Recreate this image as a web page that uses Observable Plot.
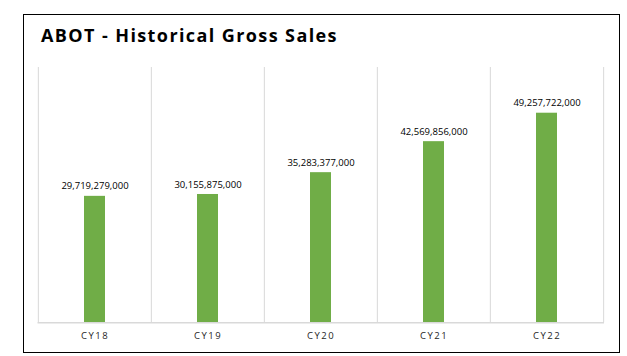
<!DOCTYPE html>
<html>
<head>
<meta charset="utf-8">
<script src="https://cdn.jsdelivr.net/npm/d3@7"></script>
<script src="https://cdn.jsdelivr.net/npm/@observablehq/plot@0.6"></script>
<style>
  html, body { margin: 0; padding: 0; background: #fff; }
  #wrap { position: relative; width: 627px; height: 356px; overflow: hidden; }
  #border { position: absolute; left: 23px; top: 14px; width: 595px; height: 337px; border: 1px solid #000; }
  #title { position: absolute; left: 41px; top: 23px; font-family: "Open Sans", sans-serif; font-weight: bold; font-size: 18px; letter-spacing: 1.4px; color: #000; line-height: 24px; white-space: nowrap; }
  #chart { position: absolute; left: 0; top: 0; }
  #chart [aria-label="x-axis tick label"] text { letter-spacing: 1.5px; }
</style>
</head>
<body>
<div id="wrap">
  <div id="chart"></div>
  <div id="border"></div>
  <div id="title">ABOT - Historical Gross Sales</div>
</div>
<script>
const categories = ["CY18", "CY19", "CY20", "CY21", "CY22"];
const grossSales = [29719279000, 30155875000, 35283377000, 42569856000, 49257722000];
const valueLabels = ["29,719,279,000", "30,155,875,000", "35,283,377,000", "42,569,856,000", "49,257,722,000"];

const data = categories.map((c, i) => ({cat: c, value: grossSales[i], label: valueLabels[i]}));

const W = 627, H = 356;
const mL = 37.5, mR = 23, mT = 67, mB = 33.7;
const step = (W - mL - mR) / categories.length;
const pin = 0.815;

const chart = Plot.plot({
  width: W,
  height: H,
  marginLeft: mL,
  marginRight: mR,
  marginTop: mT,
  marginBottom: mB,
  style: {fontFamily: "'Open Sans', sans-serif", background: "transparent", overflow: "visible"},
  x: {domain: categories, paddingInner: pin, paddingOuter: pin / 2, align: 0.5, label: null},
  y: {domain: [0, 60e9], axis: null},
  marks: [
    Plot.ruleX(categories, {x: d => d, y1: 0, y2: 60e9, dx: -step / 2, stroke: "#d9d9d9", strokeWidth: 1}),
    Plot.ruleX([categories[categories.length - 1]], {x: d => d, y1: 0, y2: 60e9, dx: step / 2, stroke: "#d9d9d9", strokeWidth: 1}),
    Plot.barY(data, {x: "cat", y: "value", fill: "#70ad47"}),
    Plot.ruleY([0], {stroke: "#d9d9d9", strokeWidth: 1.5}),
    Plot.text(data, {x: "cat", y: "value", text: "label", dy: -10, fontSize: 9.5, fill: "#000"}),
    Plot.axisX({tickSize: 0, tickPadding: 9, fontSize: 9.5, fill: "#262626", label: null})
  ]
});
document.getElementById("chart").appendChild(chart);
</script>
</body>
</html>
